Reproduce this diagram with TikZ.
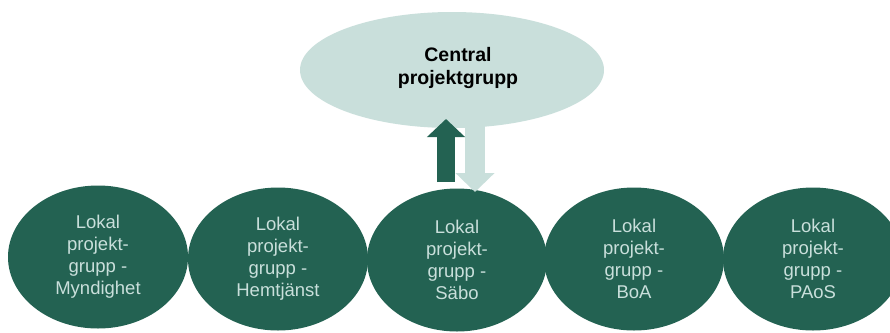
\documentclass[tikz,border=0pt]{standalone}
\usepackage{fontspec}
\setmainfont{Liberation Sans}
\usetikzlibrary{shapes.geometric,arrows.meta}
\definecolor{groupgreen}{HTML}{236252}
\definecolor{paleteal}{HTML}{C9DFDB}
\tikzset{
  localgroup/.style={ellipse, fill=groupgreen, minimum width=180pt, minimum height=143pt,
    inner sep=0pt, text=paleteal, align=center,
    font=\fontsize{18.5pt}{22pt}\selectfont},
  centralgroup/.style={ellipse, fill=paleteal, minimum width=304pt, minimum height=116pt,
    inner sep=0pt},
  centrallabel/.style={align=center, text=black,
    font=\fontsize{19.5pt}{22pt}\selectfont\bfseries},
  upflow/.style={draw=groupgreen, line width=18pt,
    -{Triangle[width=37pt,length=18pt]}},
  downflow/.style={draw=paleteal, line width=20pt,
    -{Triangle[width=38pt,length=19pt]}}
}
\begin{document}
\begin{tikzpicture}[x=1pt,y=-1pt]
  \useasboundingbox (0,0) rectangle (890,332);
  \fill[white] (0,0) rectangle (890,332);

  % central project group
  \node[centralgroup] (central) at (452,70) {};
  \node[centrallabel] (centraltext) at (458,68) {Central\\projektgrupp};

  % local project groups
  \node[localgroup] (myndighet) at (98,257)  {Lokal\\projekt-\\grupp -\\Myndighet};
  \node[localgroup] (hemtjanst) at (278,259) {Lokal\\projekt-\\grupp -\\Hemtjänst};
  \node[localgroup] (sabo)      at (457,260) {Lokal\\projekt-\\grupp -\\Säbo};
  \node[localgroup] (boa)       at (634,259) {Lokal\\projekt-\\grupp -\\BoA};
  \node[localgroup] (paos)      at (813,259) {Lokal\\projekt-\\grupp -\\PAoS};

  % flows between the central group and Säbo
  \coordinate (downstart) at (475,120);
  \coordinate (downend)   at (475,192);
  \coordinate (upstart)   at (446,182);
  \coordinate (upend)     at (446,119);
  \draw[downflow] (downstart) -- (downend);
  \draw[upflow] (upstart) -- (upend);
\end{tikzpicture}
\end{document}
